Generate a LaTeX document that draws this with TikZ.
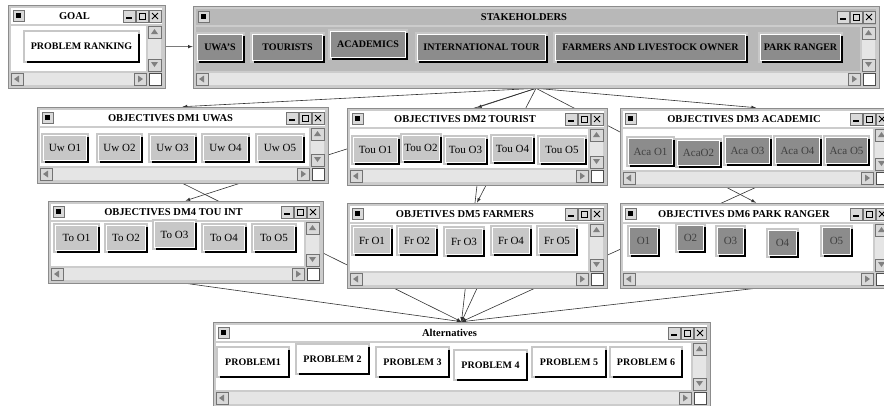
\documentclass[tikz,border=0pt]{standalone}
\usepackage{fontspec}
\setmainfont{Liberation Serif}
\usetikzlibrary{fit,backgrounds}

\tikzset{
  wframe/.style={draw=black!45, fill=black!20, inner sep=0pt, line width=0.6pt},
  wbox/.style={draw=black!55, fill=black!15, line width=0.5pt},
  wscroll/.style={fill=black!10},
  wtitle/.style={font=\bfseries\fontsize{10.5}{12}\selectfont, inner sep=0pt},
  btn/.style={fill=#1, draw=white, line width=0.8pt, inner sep=0pt,
    preaction={draw=black!22, line width=5pt}},
  bshade/.style={draw=black, line width=2.2pt},
  lbtn/.style={btn=black!22, font=\fontsize{11}{12}\selectfont},
  dbtn/.style={btn=black!45, text=black!75, font=\fontsize{11}{12}\selectfont},
  sbtn/.style={btn=black!45, font=\bfseries\fontsize{10}{12}\selectfont},
  pbtn/.style={btn=white, font=\bfseries\fontsize{10}{12}\selectfont},
  conn/.style={draw=black!80, line width=0.6pt, ->}
}

\newcommand{\wnd}[7]{%
  \node[wframe, fit={(#2,#3) (#4,#5)}] (#1) {};
  \fill[#7] (#2+3,#3+3) rectangle (#4-3,#3+19);
  \fill[#7] (#2+3,#3+21) rectangle (#4-19,#5-17);
  \node[wtitle] (#1-t) at ({(#2+#4)/2-12},#3+11) {#6};
  \draw[wbox] (#2+5,#3+5) rectangle (#2+16,#3+16);
  \fill (#2+8,#3+8) rectangle (#2+13,#3+13);
  \draw[wbox] (#4-42,#3+5) rectangle (#4-30,#3+17);
  \draw[wbox] (#4-29,#3+5) rectangle (#4-17,#3+17);
  \draw[wbox] (#4-16,#3+5) rectangle (#4-4,#3+17);
  \draw[line width=1.5pt] (#4-39,#3+13) -- (#4-33,#3+13);
  \draw[line width=0.8pt] (#4-26,#3+8) rectangle (#4-20,#3+14);
  \draw[line width=1pt] (#4-13,#3+8) -- (#4-7,#3+14) (#4-13,#3+14) -- (#4-7,#3+8);
  \fill[wscroll] (#4-17,#3+21) rectangle (#4-4,#5-17);
  \draw[wbox] (#4-17,#3+21) rectangle (#4-4,#3+33);
  \draw[wbox] (#4-17,#5-29) rectangle (#4-4,#5-17);
  \fill[black!50] (#4-10.5,#3+24) -- (#4-14,#3+29) -- (#4-7,#3+29) -- cycle;
  \fill[black!50] (#4-10.5,#5-21) -- (#4-14,#5-26) -- (#4-7,#5-26) -- cycle;
  \fill[wscroll] (#2+3,#5-15) rectangle (#4-19,#5-3);
  \draw[wbox] (#2+3,#5-15) rectangle (#2+15,#5-3);
  \draw[wbox] (#4-31,#5-15) rectangle (#4-19,#5-3);
  \fill[black!50] (#2+6,#5-9) -- (#2+11,#5-12.5) -- (#2+11,#5-5.5) -- cycle;
  \fill[black!50] (#4-22,#5-9) -- (#4-27,#5-12.5) -- (#4-27,#5-5.5) -- cycle;
  \draw[fill=white, draw=black!70] (#4-16,#5-15) rectangle (#4-4,#5-3);
}

\newcommand{\wbtn}[7]{%
  \node[#7, minimum width={#3-#2-3}, minimum height={#5-#4-3}] (#1) at ({(#2+#3)/2-1},{(#4+#5)/2-1}) {#6};
  \draw[bshade] ([xshift=1.1pt,yshift=-1.5pt]#1.north east) -- ([xshift=1.1pt,yshift=-1.1pt]#1.south east) -- ([xshift=1.5pt,yshift=-1.1pt]#1.south west);
}

\begin{document}
\begin{tikzpicture}[x=1pt, y=-1pt, >=latex]
\useasboundingbox (0,0) rectangle (884,405);
\begin{scope}[on background layer]
\fill[white] (0,0) rectangle (884,405);
\end{scope}

\wnd{goal}{8}{5}{165}{88}{GOAL}{white}
\wbtn{rank}{25}{140}{32}{63}{PROBLEM RANKING}{pbtn}

\wnd{stk}{193}{6}{879}{88}{STAKEHOLDERS}{black!28}
\wbtn{s1}{197}{245}{34}{63}{UWA'S}{sbtn}
\wbtn{s2}{252}{325}{34}{63}{TOURISTS}{sbtn}
\wbtn{s3}{330}{408}{31}{60}{ACADEMICS}{sbtn}
\wbtn{s4}{417}{548}{34}{63}{INTERNATIONAL TOUR}{sbtn}
\wbtn{s5}{555}{748}{34}{63}{FARMERS AND LIVESTOCK OWNER}{sbtn}
\wbtn{s6}{760}{843}{34}{63}{PARK RANGER}{sbtn}

\wnd{dm1}{37}{107}{328}{183}{OBJECTIVES DM1 UWAS}{white}
\wbtn{u1}{43}{89}{135}{163}{Uw O1}{lbtn}
\wbtn{u2}{98}{143}{135}{163}{Uw O2}{lbtn}
\wbtn{u3}{150}{197}{135}{163}{Uw O3}{lbtn}
\wbtn{u4}{203}{250}{135}{163}{Uw O4}{lbtn}
\wbtn{u5}{257}{305}{135}{163}{Uw O5}{lbtn}

\wnd{dm2}{347}{108}{607}{185}{OBJECTIVES DM2 TOURIST}{white}
\wbtn{w1}{353}{400}{137}{165}{Tou O1}{lbtn}
\wbtn{w2}{402}{442}{135}{163}{Tou O2}{lbtn}
\wbtn{w3}{445}{488}{137}{165}{Tou O3}{lbtn}
\wbtn{w4}{492}{535}{136}{164}{Tou O4}{lbtn}
\wbtn{w5}{539}{587}{137}{165}{Tou O5}{lbtn}

\wnd{dm3}{620}{108}{892}{187}{OBJECTIVES DM3 ACADEMIC}{white}
\wbtn{a1}{628}{675}{138}{167}{Aca O1}{dbtn}
\wbtn{a2}{677}{722}{140}{168}{AcaO2}{dbtn}
\wbtn{a3}{725}{772}{137}{166}{Aca O3}{dbtn}
\wbtn{a4}{775}{822}{137}{166}{Aca O4}{dbtn}
\wbtn{a5}{825}{870}{137}{166}{Aca O5}{dbtn}

\wnd{dm4}{48}{201}{323}{283}{OBJECTIVES DM4 TOU INT}{white}
\wbtn{t1}{55}{100}{225}{253}{To O1}{lbtn}
\wbtn{t2}{106}{148}{225}{253}{To O2}{lbtn}
\wbtn{t3}{154}{197}{221}{250}{To O3}{lbtn}
\wbtn{t4}{203}{247}{225}{253}{To O4}{lbtn}
\wbtn{t5}{253}{297}{225}{253}{To O5}{lbtn}

\wnd{dm5}{347}{203}{607}{288}{OBJETIVES DM5 FARMERS}{white}
\wbtn{f1}{353}{393}{227}{256}{Fr O1}{lbtn}
\wbtn{f2}{398}{438}{227}{256}{Fr O2}{lbtn}
\wbtn{f3}{445}{485}{228}{257}{Fr O3}{lbtn}
\wbtn{f4}{492}{532}{227}{256}{Fr O4}{lbtn}
\wbtn{f5}{538}{578}{227}{256}{Fr O5}{lbtn}

\wnd{dm6}{620}{203}{892}{288}{OBJECTIVES DM6 PARK RANGER}{white}
\wbtn{o1}{629}{660}{227}{257}{O1}{dbtn}
\wbtn{o2}{677}{706}{225}{253}{O2}{dbtn}
\wbtn{o3}{717}{746}{227}{257}{O3}{dbtn}
\wbtn{o4}{768}{799}{230}{258}{O4}{dbtn}
\wbtn{o5}{822}{853}{227}{257}{O5}{dbtn}

\wnd{alt}{213}{322}{710}{407}{Alternatives}{white}
\wbtn{p1}{218}{290}{348}{378}{PROBLEM1}{pbtn}
\wbtn{p2}{297}{370}{345}{375}{PROBLEM 2}{pbtn}
\wbtn{p3}{377}{450}{348}{378}{PROBLEM 3}{pbtn}
\wbtn{p4}{455}{528}{351}{381}{PROBLEM 4}{pbtn}
\wbtn{p5}{533}{607}{348}{378}{PROBLEM 5}{pbtn}
\wbtn{p6}{611}{683}{348}{378}{PROBLEM 6}{pbtn}

\begin{scope}[on background layer]
\draw[conn] (goal) -- (stk);
\draw[conn] (stk.south) -- (dm1.north);
\draw[conn] (stk.south) -- (dm2.north);
\draw[conn] (stk.south) -- (dm3.north);
\draw[conn] (stk.south) -- (dm4.north);
\draw[conn] (stk.south) -- (dm5.north);
\draw[conn] (stk.south) -- (dm6.north);
\draw[conn] (dm1.south) -- (alt.north);
\draw[conn] (dm2.south) -- (alt.north);
\draw[conn] (dm3.south) -- (alt.north);
\draw[conn] (dm4.south) -- (alt.north);
\draw[conn] (dm5.south) -- (alt.north);
\draw[conn] (dm6.south) -- (alt.north);
\end{scope}
\end{tikzpicture}
\end{document}
